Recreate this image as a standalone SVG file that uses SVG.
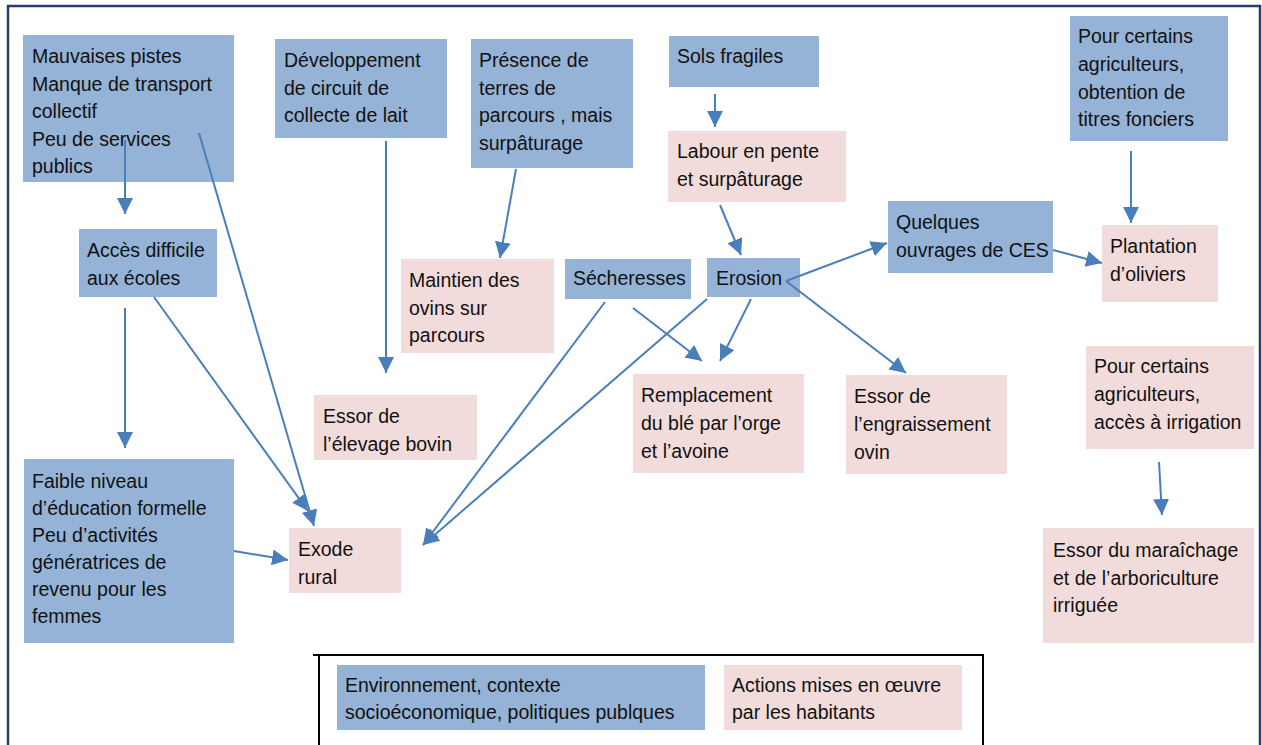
<svg xmlns="http://www.w3.org/2000/svg" width="1262" height="745" viewBox="0 0 1262 745">
<style>
.b{fill:#95b3d7}
.p{fill:#f2dcdb}
text{font-family:"Liberation Sans",Arial,sans-serif;font-size:19.5px;fill:#111}
.c line{stroke:#4a7ebb;stroke-width:2;marker-end:url(#ah)}
</style>
<defs>
<marker id="ah" markerUnits="userSpaceOnUse" markerWidth="17" markerHeight="16" refX="16" refY="8" orient="auto">
<path d="M0,0 L16,8 L0,16 z" fill="#4a7ebb"/>
</marker>
</defs>
<rect width="1262" height="745" fill="#fff"/>
<path d="M8,745 V6 H1260 V745" fill="none" stroke="#24406a" stroke-width="2.5"/>
<g id="legend">
<path d="M313,655 H984 M319,655 V745 M983,655 V745" fill="none" stroke="#000" stroke-width="2"/>
<rect class="b" x="337" y="665" width="368" height="65"/>
<text x="345" y="692">Environnement, contexte<tspan x="345" dy="27">socioéconomique, politiques publques</tspan></text>
<rect class="p" x="724" y="665" width="238" height="65"/>
<text x="732" y="692">Actions mises en œuvre<tspan x="732" dy="27">par les habitants</tspan></text>
</g>
<g id="n-mauvaises"><rect class="b" x="23" y="35" width="211" height="147"/>
<text x="32" y="63">Mauvaises pistes<tspan x="32" dy="27.6">Manque de transport</tspan><tspan x="32" dy="27.6">collectif</tspan><tspan x="32" dy="27.6">Peu de services</tspan><tspan x="32" dy="27.6">publics</tspan></text></g>
<g id="n-developpement"><rect class="b" x="275" y="39" width="172" height="99"/>
<text x="284" y="67">Développement<tspan x="284" dy="27.6">de circuit de</tspan><tspan x="284" dy="27.6">collecte de lait</tspan></text></g>
<g id="n-presence"><rect class="b" x="471" y="39" width="162" height="129"/>
<text x="479" y="67">Présence de<tspan x="479" dy="27.6">terres de</tspan><tspan x="479" dy="27.6">parcours , mais</tspan><tspan x="479" dy="27.6">surpâturage</tspan></text></g>
<g id="n-sols"><rect class="b" x="669" y="36" width="150" height="51"/>
<text x="677" y="63">Sols fragiles</text></g>
<g id="n-labour"><rect class="p" x="668" y="131" width="178" height="71"/>
<text x="677" y="158">Labour en pente<tspan x="677" dy="27.6">et surpâturage</tspan></text></g>
<g id="n-titres"><rect class="b" x="1070" y="16" width="158" height="125"/>
<text x="1078" y="43">Pour certains<tspan x="1078" dy="27.8">agriculteurs,</tspan><tspan x="1078" dy="27.8">obtention de</tspan><tspan x="1078" dy="27.8">titres fonciers</tspan></text></g>
<g id="n-plantation"><rect class="p" x="1102" y="225" width="116" height="77"/>
<text x="1110" y="253">Plantation<tspan x="1110" dy="27.6">d’oliviers</tspan></text></g>
<g id="n-ces"><rect class="b" x="888" y="201" width="165" height="72"/>
<text x="896" y="229">Quelques<tspan x="896" dy="27.6">ouvrages de CES</tspan></text></g>
<g id="n-acces"><rect class="b" x="79" y="229" width="138" height="68"/>
<text x="87" y="257">Accès difficile<tspan x="87" dy="27.6">aux écoles</tspan></text></g>
<g id="n-maintien"><rect class="p" x="401" y="259" width="153" height="94"/>
<text x="409" y="287">Maintien des<tspan x="409" dy="27.6">ovins sur</tspan><tspan x="409" dy="27.6">parcours</tspan></text></g>
<g id="n-secheresses"><rect class="b" x="565" y="259" width="126" height="40"/>
<text x="573" y="285">Sécheresses</text></g>
<g id="n-erosion"><rect class="b" x="707" y="258" width="93" height="39"/>
<text x="716" y="285">Erosion</text></g>
<g id="n-bovin"><rect class="p" x="314" y="395" width="163" height="65"/>
<text x="323" y="423">Essor de<tspan x="323" dy="27.6">l’élevage bovin</tspan></text></g>
<g id="n-remplacement"><rect class="p" x="633" y="374" width="171" height="99"/>
<text x="641" y="402">Remplacement<tspan x="641" dy="27.8">du blé par l’orge</tspan><tspan x="641" dy="27.8">et l’avoine</tspan></text></g>
<g id="n-engraissement"><rect class="p" x="846" y="375" width="161" height="99"/>
<text x="854" y="403">Essor de<tspan x="854" dy="27.8">l’engraissement</tspan><tspan x="854" dy="27.8">ovin</tspan></text></g>
<g id="n-irrigation"><rect class="p" x="1086" y="346" width="168" height="103"/>
<text x="1094" y="373">Pour certains<tspan x="1094" dy="27.8">agriculteurs,</tspan><tspan x="1094" dy="27.8">accès à irrigation</tspan></text></g>
<g id="n-maraichage"><rect class="p" x="1043" y="528" width="211" height="115"/>
<text x="1053" y="557">Essor du maraîchage<tspan x="1053" dy="27.6">et de l’arboriculture</tspan><tspan x="1053" dy="27.6">irriguée</tspan></text></g>
<g id="n-faible"><rect class="b" x="24" y="459" width="210" height="184"/>
<text x="32" y="488">Faible niveau<tspan x="32" dy="27">d’éducation formelle</tspan><tspan x="32" dy="27">Peu d’activités</tspan><tspan x="32" dy="27">génératrices de</tspan><tspan x="32" dy="27">revenu pour les</tspan><tspan x="32" dy="27">femmes</tspan></text></g>
<g id="n-exode"><rect class="p" x="289" y="528" width="112" height="65"/>
<text x="298" y="556">Exode<tspan x="298" dy="27.6">rural</tspan></text></g>
<g id="connectors" class="c">
<line x1="125" y1="140" x2="125" y2="214"/>
<line x1="199" y1="133" x2="314" y2="526"/>
<line x1="125" y1="308" x2="125" y2="448"/>
<line x1="154" y1="297" x2="308" y2="511"/>
<line x1="234" y1="551" x2="288" y2="560"/>
<line x1="386" y1="141" x2="386" y2="373"/>
<line x1="516" y1="169" x2="500" y2="258"/>
<line x1="715" y1="94" x2="715" y2="127"/>
<line x1="720" y1="205" x2="741" y2="255"/>
<line x1="1131" y1="151" x2="1131" y2="223"/>
<line x1="1053" y1="250" x2="1102" y2="263"/>
<line x1="786" y1="281" x2="887" y2="243"/>
<line x1="786" y1="281" x2="906" y2="373"/>
<line x1="751" y1="299" x2="720" y2="361"/>
<line x1="633" y1="308" x2="702" y2="361"/>
<line x1="605" y1="302" x2="423" y2="545"/>
<line x1="707" y1="299" x2="423" y2="545"/>
<line x1="1159" y1="462" x2="1162" y2="515"/>
</g>
</svg>
